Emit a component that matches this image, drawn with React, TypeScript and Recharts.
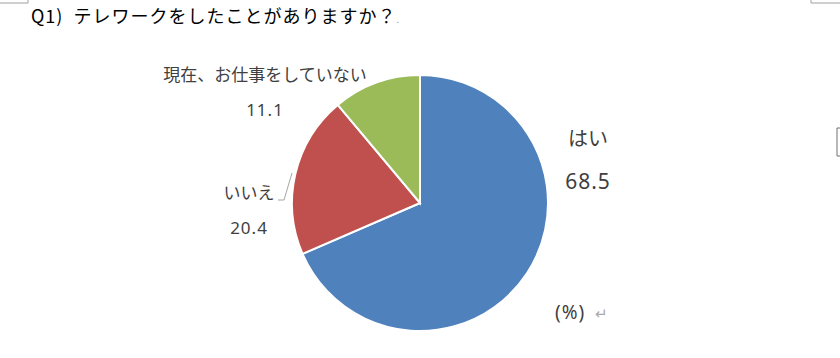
import React from 'react';
import { PieChart, Pie, Cell } from 'recharts';

const categories = ['はい', 'いいえ', '現在、お仕事をしていない'];
const shares = [68.5, 20.4, 11.1];
const sliceColors = ['#4F81BD', '#C0504D', '#9BBB59'];

const pieData = categories.map((name, i) => ({ name, value: shares[i] }));

// label placement relative to the pie centre (Excel "best fit" look)
const labelSpots = [
    { dx: 168, nameDy: -65, valueDy: -22, nameSize: 20, valueSize: 21 },
    { dx: -171, nameDy: -11, valueDy: 24, nameSize: 17, valueSize: 17 },
    { dx: -155, nameDy: -129, valueDy: -94, nameSize: 17, valueSize: 17 },
];

const renderLabel = (props: any) => {
    const { cx, cy, index, name, value } = props;
    const spot = labelSpots[index];
    const font = '"Noto Sans", "Noto Sans CJK JP", sans-serif';
    return (
        <g key={`lbl-${index}`}>
            <text x={cx + spot.dx} y={cy + spot.nameDy} textAnchor="middle" dominantBaseline="central"
                fill="#404040" fontSize={spot.nameSize} fontFamily={font}>{name}</text>
            <text x={cx + spot.dx} y={cy + spot.valueDy} textAnchor="middle" dominantBaseline="central"
                fill="#404040" fontSize={spot.valueSize} fontFamily={font} letterSpacing={1}>{value.toFixed(1)}</text>
            {index === 1 && (
                <polyline points={`${cx - 142},${cy - 3} ${cx - 136},${cy - 3} ${cx - 128},${cy - 30}`}
                    fill="none" stroke="#a6a6a6" strokeWidth={1} />
            )}
        </g>
    );
};

export default function App() {
    return (
        <div style={{ position: 'absolute', left: 0, top: 0, width: 840, height: 358, background: '#fff' }}>
            <svg width={840} height={358} style={{ position: 'absolute', left: 0, top: 0 }}>
                <polyline points="0,3 28,3 28,0" fill="none" stroke="#a0a0a0" strokeWidth={1} />
                <polyline points="840,3 811,3 811,0" fill="none" stroke="#a0a0a0" strokeWidth={1} />
                <polyline points="840,128 837,128 837,156 840,156" fill="none" stroke="#707070" strokeWidth={1} />
            </svg>
            <div style={{ position: 'absolute', left: 31, top: 4, fontSize: 18, lineHeight: '22px', color: '#000',
                fontFamily: '"Noto Sans CJK JP", sans-serif', whiteSpace: 'nowrap', letterSpacing: 1 }}>
                Q1)<span style={{ marginLeft: 10 }}>テレワークをしたことがありますか？</span>
                <span style={{ fontSize: 9, color: '#999' }}>.</span>
            </div>
            <div style={{ position: 'absolute', left: 555, top: 300, fontSize: 19, lineHeight: '24px', color: '#404040',
                fontFamily: '"Noto Sans", "Noto Sans CJK JP", sans-serif', whiteSpace: 'nowrap', letterSpacing: 1 }}>
                (%)<span style={{ color: '#aaa', marginLeft: 10, fontSize: 15 }}>↵</span>
            </div>
            <div style={{ position: 'absolute', left: 0, top: 0 }}>
                <PieChart width={840} height={358} margin={{ top: 0, right: 0, bottom: 0, left: 0 }}>
                    <Pie data={pieData} dataKey="value" nameKey="name" cx={420} cy={203} outerRadius={128}
                        startAngle={90} endAngle={-270} stroke="#fff" strokeWidth={2}
                        label={renderLabel} labelLine={false} isAnimationActive={false}>
                        {pieData.map((d, i) => <Cell key={d.name} fill={sliceColors[i]} />)}
                    </Pie>
                </PieChart>
            </div>
        </div>
    );
}
